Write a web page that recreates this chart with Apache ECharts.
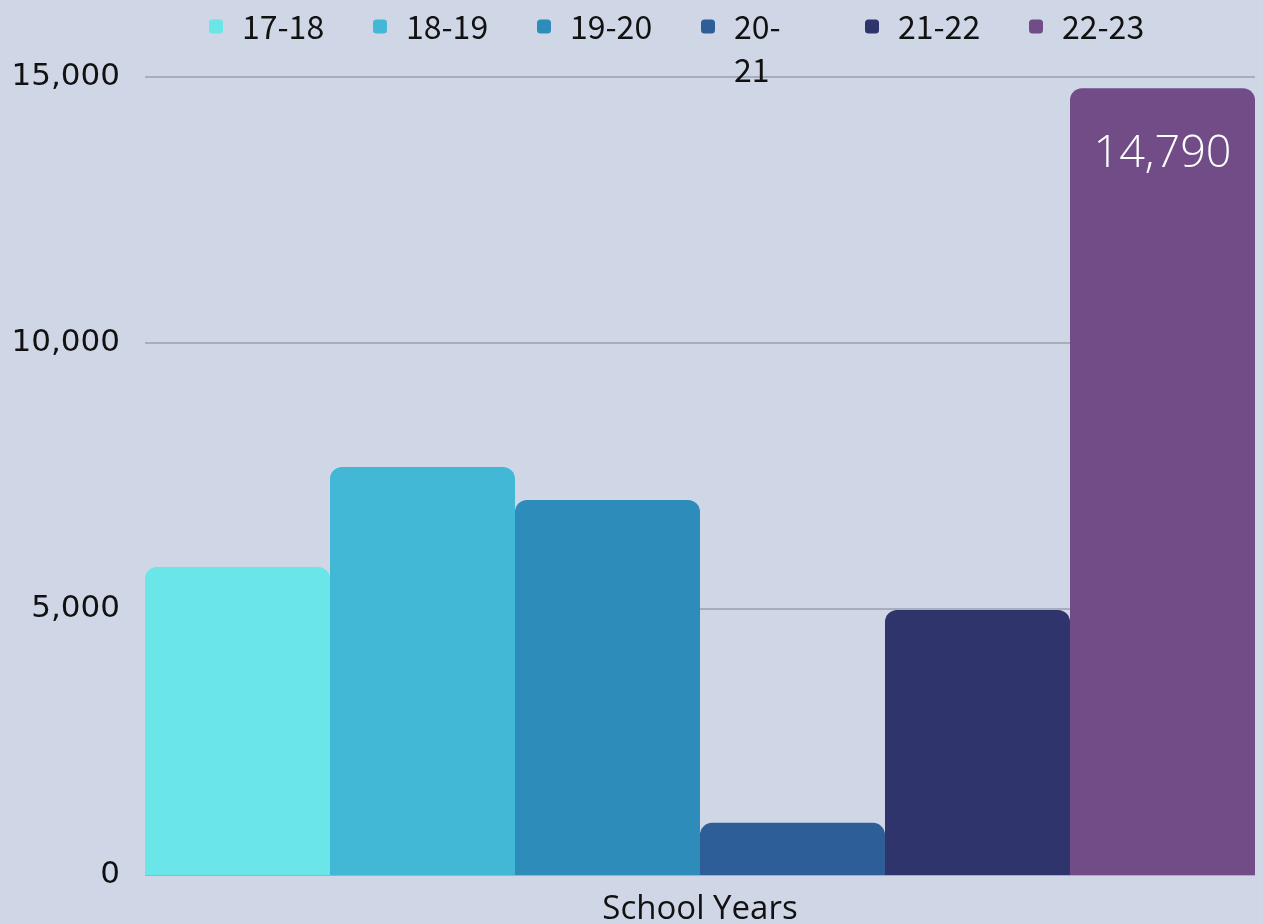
<!DOCTYPE html>
<html><head><meta charset="utf-8">
<script src="https://cdn.jsdelivr.net/npm/echarts@6/dist/echarts.min.js"></script>
<style>html,body{margin:0;padding:0;background:#cfd7e7;}#c{width:1263px;height:924px;}</style>
</head><body><div id="c"></div>
<script>
const categories = ['School Years'];
const seriesNames = ['17-18', '18-19', '19-20', '20-21', '21-22', '22-23'];
const values = [5790, 7670, 7050, 980, 4980, 14790];
const labelledSeries = ['22-23'];
const yTicks = { min: 0, max: 15000, interval: 5000 };
const colors = ['#6ae5e8', '#42b7d6', '#2d8cba', '#2e5e98', '#30346c', '#714c86'];

const chart = echarts.init(document.getElementById('c'));
chart.setOption({
  backgroundColor: '#cfd7e7',
  animation: false,
  legend: {
    left: 204, top: -43,
    itemWidth: 14, itemHeight: 14, itemGap: 31,
    icon: 'roundRect',
    textStyle: { fontFamily: 'Noto Sans CJK SC', fontSize: 32, color: '#111', width: 100, lineHeight: 43, padding: [0,0,0,14] },
    formatter: n => n === '20-21' ? ' \n20-\n21' : n
  },
  grid: { left: 145, right: 8, top: 77, bottom: 49, containLabel: false, outerBoundsMode: 'none' },
  xAxis: {
    type: 'category', data: categories,
    axisLine: { show: false }, axisTick: { show: false }, axisLabel: { show: false },
    name: 'School Years', nameLocation: 'middle', nameGap: 18,
    nameTextStyle: { fontFamily: 'Open Sans', fontSize: 33, color: '#111' }
  },
  yAxis: {
    type: 'value', min: yTicks.min, max: yTicks.max, interval: yTicks.interval,
    axisLine: { show: false }, axisTick: { show: false },
    axisLabel: { fontFamily: 'DejaVu Sans', fontSize: 31, color: '#111', margin: 25,
      formatter: v => v.toLocaleString('en-US') },
    splitLine: { lineStyle: { color: '#9aa0ab', width: 1.5 } }
  },
  series: seriesNames.map((n, i) => ({
    name: n, type: 'bar', data: [values[i]],
    barGap: 0, barCategoryGap: 0,
    itemStyle: { color: colors[i], borderRadius: [12, 12, 0, 0] },
    label: {
      show: labelledSeries.includes(n), position: 'insideTop', distance: 44,
      color: '#fff', fontFamily: 'Open Sans', fontWeight: 300, fontSize: 45,
      formatter: p => p.value.toLocaleString('en-US')
    }
  }))
});
</script></body></html>
